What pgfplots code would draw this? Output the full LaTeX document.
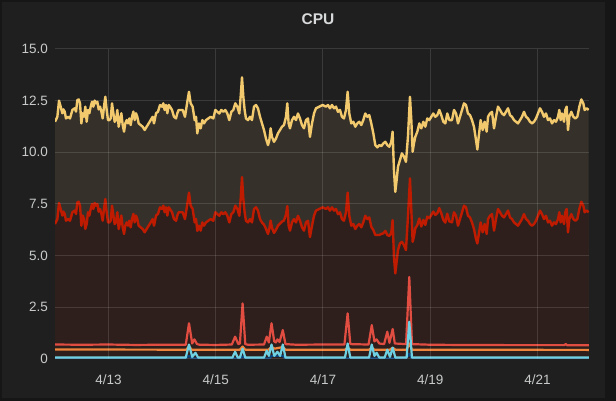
\documentclass[border=0pt]{standalone}
\usepackage{fontspec}
\setmainfont{Liberation Sans}
\usepackage{pgfplots}
\usepackage{pgfplotstable}
\pgfplotsset{compat=1.18}

\definecolor{outerbg}{HTML}{161616}
\definecolor{panelbg}{HTML}{1F1F1F}
\definecolor{txt}{HTML}{C8C9CA}
\definecolor{ttl}{HTML}{D8D9DA}
\definecolor{cYel}{HTML}{F2C96D}
\definecolor{cRed}{HTML}{BF1B00}
\definecolor{fYel}{HTML}{35312A}
\definecolor{fRed}{HTML}{2F1F1C}
\definecolor{cLred}{HTML}{E24D42}
\definecolor{cOra}{HTML}{EF843C}
\definecolor{cCya}{HTML}{6ED0E0}
\definecolor{cBlu}{HTML}{0A437C}

% day of April, total (Y) and lower (R) cpu series
\pgfplotstableread{
d Y R
12.000 11.48 6.53
12.044 11.72 6.77
12.075 12.50 7.55
12.106 12.21 7.26
12.137 11.89 6.94
12.156 12.08 7.13
12.181 11.97 7.02
12.205 11.64 6.69
12.243 11.72 6.77
12.280 11.64 6.69
12.324 12.05 7.10
12.367 12.13 7.18
12.392 11.97 7.02
12.417 12.53 7.58
12.442 12.56 7.61
12.467 12.37 7.42
12.492 11.40 6.45
12.516 11.89 6.94
12.541 11.72 6.77
12.566 12.21 6.30
12.591 11.48 6.53
12.616 12.05 7.10
12.641 11.89 6.94
12.666 12.21 7.26
12.691 12.45 7.50
12.715 12.21 7.26
12.740 12.50 7.55
12.765 12.37 7.42
12.790 12.45 7.50
12.815 12.08 7.13
12.840 12.21 7.26
12.865 11.97 7.02
12.890 11.64 6.69
12.914 12.21 7.26
12.939 12.69 7.74
12.964 12.05 7.10
12.989 11.56 6.61
13.014 11.56 6.61
13.039 11.64 6.69
13.064 12.37 7.42
13.089 11.89 6.94
13.113 11.48 6.53
13.138 11.56 6.61
13.163 12.05 7.10
13.188 11.24 6.29
13.213 11.56 6.61
13.238 11.89 6.94
13.263 11.32 6.37
13.288 11.00 6.05
13.312 11.40 6.45
13.337 11.56 6.61
13.362 11.40 6.45
13.387 11.64 6.69
13.412 11.32 6.37
13.437 11.72 6.77
13.462 11.97 7.02
13.487 11.56 6.61
13.511 11.89 6.94
13.536 11.72 6.77
13.561 11.40 6.45
13.598 11.32 6.37
13.636 11.24 6.29
13.673 11.08 6.13
13.710 11.24 6.29
13.748 11.40 6.45
13.785 11.56 6.61
13.822 11.72 6.77
13.847 11.40 6.45
13.885 11.89 6.94
13.922 11.97 7.02
13.959 12.29 7.34
13.996 12.21 7.26
14.021 12.37 7.42
14.046 12.05 7.10
14.071 12.29 7.34
14.096 11.89 6.94
14.121 12.29 7.34
14.146 12.21 7.26
14.183 12.05 7.10
14.220 11.72 6.77
14.258 11.64 6.69
14.282 11.89 6.94
14.307 12.05 7.10
14.345 12.05 7.10
14.382 12.05 7.10
14.425 11.72 6.77
14.469 12.45 7.50
14.500 12.93 8.05
14.531 12.37 7.42
14.568 12.21 7.26
14.606 11.56 6.61
14.631 11.72 6.77
14.655 10.92 6.20
14.686 11.40 6.45
14.718 11.16 6.21
14.749 11.56 6.61
14.780 11.40 6.45
14.817 11.56 6.61
14.861 11.64 6.69
14.904 11.72 6.77
14.954 11.64 6.69
14.991 12.05 7.10
15.029 11.96 7.01
15.066 11.88 6.93
15.103 12.05 7.10
15.140 11.96 7.01
15.178 12.05 7.10
15.215 11.88 6.93
15.252 11.56 6.61
15.290 11.96 7.01
15.327 12.05 7.10
15.364 12.37 7.42
15.402 12.21 7.26
15.439 11.88 6.93
15.464 12.69 7.74
15.489 13.63 8.80
15.514 12.69 7.74
15.538 12.05 7.10
15.563 11.64 6.69
15.601 11.56 6.61
15.638 11.72 6.77
15.675 11.56 6.61
15.713 12.21 7.26
15.750 12.29 7.34
15.787 12.13 7.18
15.825 11.72 6.77
15.862 11.40 6.60
15.899 11.08 6.50
15.936 10.67 6.30
15.974 10.35 6.05
15.999 10.59 6.30
16.023 11.16 6.70
16.048 10.75 6.35
16.086 10.51 6.10
16.123 10.67 6.25
16.160 10.92 6.45
16.198 11.08 6.55
16.235 11.24 6.65
16.272 11.32 6.70
16.310 11.72 7.00
16.334 12.37 7.40
16.359 11.40 6.45
16.384 11.16 6.21
16.422 11.56 6.61
16.459 11.72 6.77
16.496 11.56 6.61
16.533 11.88 6.93
16.571 11.64 6.69
16.608 11.32 6.37
16.645 11.16 6.21
16.683 11.56 6.61
16.720 11.64 6.69
16.757 10.75 5.90
16.795 11.40 6.45
16.832 11.88 6.93
16.869 12.13 7.18
16.931 12.21 7.26
16.993 12.29 7.34
17.056 12.21 7.26
17.093 12.29 7.34
17.130 12.13 7.18
17.168 12.29 7.34
17.205 12.13 7.18
17.242 12.21 7.26
17.279 11.96 7.01
17.317 12.05 7.10
17.354 11.72 6.77
17.391 11.64 6.69
17.429 12.05 7.10
17.460 12.93 8.05
17.491 11.88 6.93
17.528 11.40 6.45
17.566 11.48 6.53
17.603 11.24 6.29
17.640 11.40 6.45
17.677 11.48 6.53
17.715 11.32 6.37
17.752 11.56 6.61
17.789 11.88 6.93
17.827 11.72 6.77
17.864 11.80 6.85
17.901 11.40 6.40
17.939 10.92 6.24
17.976 10.35 6.00
18.013 10.24 6.00
18.051 10.35 6.00
18.088 10.30 6.05
18.125 10.43 6.08
18.163 10.51 6.20
18.200 10.35 6.00
18.237 10.27 5.95
18.274 10.51 6.10
18.299 11.00 6.72
18.324 9.14 4.95
18.349 8.09 4.14
18.374 8.66 4.70
18.399 9.30 5.27
18.436 9.63 5.59
18.473 9.95 5.67
18.511 9.79 5.51
18.548 9.54 5.27
18.585 10.75 6.88
18.623 12.69 8.74
18.648 11.56 7.21
18.673 10.03 5.67
18.697 10.43 5.92
18.722 10.75 6.32
18.760 11.00 6.48
18.797 11.40 6.80
18.834 11.16 6.41
18.872 11.48 6.73
18.909 11.24 6.49
18.946 11.64 6.89
18.983 11.56 6.81
19.021 11.72 6.97
19.058 11.88 7.13
19.095 11.72 6.97
19.133 11.80 7.05
19.170 12.05 7.30
19.207 11.80 7.05
19.245 11.48 6.73
19.282 11.40 6.60
19.319 11.88 7.03
19.357 11.56 6.66
19.407 11.56 6.61
19.444 12.05 7.10
19.482 11.88 6.93
19.519 11.40 6.45
19.556 11.72 6.77
19.594 12.05 7.10
19.631 12.37 7.42
19.668 12.29 7.34
19.705 11.88 6.93
19.743 11.80 6.85
19.780 11.56 6.61
19.817 11.24 6.29
19.855 10.59 5.80
19.880 10.14 5.59
19.905 10.75 6.00
19.942 11.56 6.61
19.979 11.08 6.13
20.016 11.48 6.53
20.054 11.00 6.05
20.079 11.72 6.77
20.116 11.88 6.93
20.153 11.96 7.01
20.191 11.16 6.21
20.228 11.72 6.77
20.265 12.21 7.26
20.303 12.05 7.10
20.340 11.88 6.93
20.377 11.80 6.85
20.414 11.96 7.01
20.452 12.13 7.18
20.489 11.80 6.85
20.526 11.72 6.77
20.564 11.56 6.61
20.601 11.48 6.53
20.638 11.40 6.45
20.676 11.56 6.61
20.713 11.72 6.77
20.750 11.96 7.01
20.788 11.72 6.77
20.825 11.64 6.69
20.862 11.48 6.53
20.900 11.40 6.45
20.937 11.48 6.53
20.974 11.64 6.69
21.011 11.88 6.93
21.049 12.13 7.18
21.086 11.96 7.01
21.123 11.72 6.77
21.161 11.88 6.93
21.198 11.56 6.61
21.235 11.64 6.69
21.273 11.40 6.45
21.310 11.56 6.61
21.347 11.48 6.53
21.385 11.72 6.77
21.409 12.05 7.10
21.434 11.56 6.61
21.459 11.88 6.93
21.497 11.48 6.53
21.521 12.05 7.10
21.546 12.21 7.26
21.571 11.08 6.13
21.596 11.72 6.77
21.633 11.96 7.01
21.671 11.72 6.77
21.708 11.64 6.69
21.745 11.72 6.77
21.783 12.21 7.26
21.820 12.56 7.61
21.857 12.37 7.42
21.882 12.05 7.10
21.920 12.13 7.18
21.957 12.05 7.10
}\cpumain

\pgfplotstableread{
d v
12.00 0.70
12.50 0.69
13.00 0.70
13.50 0.68
14.00 0.69
14.44 0.69
14.50 1.73
14.56 0.75
14.60 0.95
14.65 0.72
14.70 0.69
15.00 0.68
15.30 0.70
15.36 1.08
15.42 0.72
15.45 0.75
15.50 2.69
15.55 0.72
15.60 0.69
15.90 0.70
15.95 1.08
15.99 0.80
16.04 1.73
16.09 0.85
16.12 0.80
16.15 0.95
16.19 0.82
16.25 1.40
16.30 0.72
16.50 0.69
17.00 0.70
17.40 0.70
17.46 2.21
17.51 0.72
17.85 0.70
17.91 1.64
17.96 0.85
18.00 0.95
18.05 0.75
18.14 0.72
18.20 1.32
18.24 0.78
18.30 1.45
18.34 0.75
18.55 0.72
18.61 3.97
18.66 0.72
19.00 0.69
19.50 0.68
20.00 0.68
20.50 0.67
21.00 0.67
21.50 0.67
21.53 0.72
21.56 0.66
21.96 0.67
}\cpulred

\pgfplotstableread{
d v
12.00 0.46
14.45 0.45
14.50 0.62
14.55 0.45
15.45 0.45
15.50 0.60
15.55 0.45
15.98 0.45
16.04 0.58
16.10 0.50
16.25 0.58
16.30 0.45
17.41 0.45
17.46 0.55
17.51 0.45
17.86 0.45
17.91 0.55
17.96 0.45
18.25 0.45
18.30 0.55
18.35 0.45
18.56 0.45
18.61 0.75
18.66 0.45
21.96 0.44
}\cpuora

\pgfplotstableread{
d v
12.00 0.03
14.44 0.03
14.50 0.15
14.56 0.03
15.44 0.03
15.50 0.12
15.56 0.03
16.00 0.03
16.04 0.15
16.25 0.15
16.30 0.03
18.55 0.03
18.61 0.25
18.66 0.03
21.96 0.03
}\cpublu

\pgfplotstableread{
d v
12.00 0.07
14.44 0.07
14.50 0.70
14.56 0.10
14.62 0.30
14.67 0.07
15.31 0.07
15.36 0.35
15.41 0.07
15.45 0.07
15.50 0.50
15.55 0.07
15.90 0.07
15.95 0.40
15.99 0.15
16.04 0.70
16.09 0.15
16.15 0.35
16.20 0.15
16.25 0.70
16.30 0.07
17.41 0.07
17.46 0.75
17.51 0.07
17.86 0.07
17.91 0.70
17.96 0.15
18.00 0.30
18.05 0.07
18.15 0.07
18.20 0.45
18.25 0.10
18.30 0.55
18.35 0.07
18.56 0.07
18.61 1.80
18.66 0.07
21.96 0.07
}\cpucya

\begin{document}
\begin{tikzpicture}[x=1pt,y=1pt]
\fill[outerbg] (0,0) rectangle (616,401);
\fill[panelbg] (2,3) rectangle (605,399);
\node[font=\fontsize{15.5}{17}\selectfont\bfseries, text=ttl] at (318,382) {CPU};
\begin{axis}[
  at={(55pt,42pt)}, anchor=south west,
  scale only axis, width=534pt, height=310pt,
  xmin=12, xmax=21.963, ymin=0, ymax=15,
  axis on top,
  axis line style={draw=none},
  major tick length=0pt,
  xtick={13,15,17,19,21},
  xticklabels={4/13,4/15,4/17,4/19,4/21},
  ytick={0,2.5,5,7.5,10,12.5,15},
  yticklabels={0,2.5,5.0,7.5,10.0,12.5,15.0},
  grid=major,
  major grid style={white, opacity=0.12, line width=1pt},
  ticklabel style={font=\fontsize{13.5}{16}\selectfont, text=txt},
  xticklabel style={anchor=north, inner sep=0pt, yshift=-16pt},
  yticklabel style={anchor=east, inner sep=0pt, xshift=-7pt},
  no markers,
]
\addplot[fill=fYel, draw=none] table[x=d,y=Y] {\cpumain} \closedcycle;
\addplot[fill=fRed, draw=none] table[x=d,y=R] {\cpumain} \closedcycle;
\addplot[cYel, line width=2.4pt, line join=round] table[x=d,y=Y] {\cpumain};
\addplot[cRed, line width=2.4pt, line join=round] table[x=d,y=R] {\cpumain};
\addplot[cLred, line width=2.2pt, line join=round] table[x=d,y=v] {\cpulred};
\addplot[cOra, line width=2.2pt, line join=round] table[x=d,y=v] {\cpuora};
\addplot[cBlu, line width=2.2pt, line join=round] table[x=d,y=v] {\cpublu};
\addplot[cCya, line width=2.2pt, line join=round] table[x=d,y=v] {\cpucya};
\end{axis}
\end{tikzpicture}
\end{document}
